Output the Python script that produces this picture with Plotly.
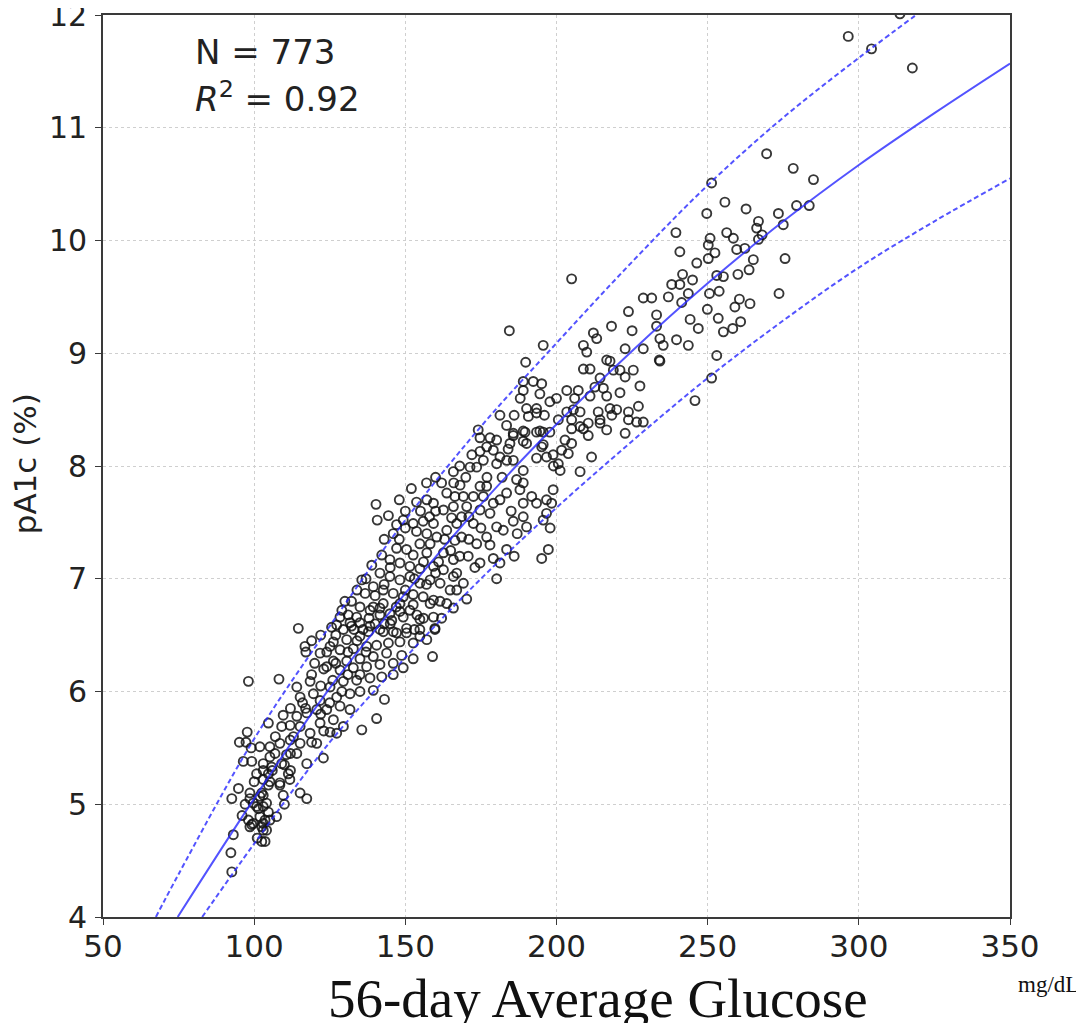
import plotly.graph_objects as go

# ---- scatter data (glucose mg/dL, pA1c %) ----
glucose = [
    98.1, 97.7, 95.1, 97.3, 96.4, 99.2, 101.9, 104.7, 103.0, 100.8, 94.8, 92.6, 98.6, 98.6, 101.9, 100.8, 103.0, 98.1, 99.2, 101.9, 103.6, 102.5, 93.1, 92.3, 92.6, 104.1, 103.0, 104.7, 105.2,
    104.7, 108.5, 109.6, 111.8, 115.2, 117.4, 99.7, 103.0, 104.1, 101.4, 104.7, 99.7, 103.0, 105.2, 107.4, 98.6, 102.5, 103.6,
    114.6, 130.0, 128.4, 131.1, 133.9, 127.3, 129.5, 132.2, 139.4, 142.7, 148.2, 152.6, 158.2, 161.5, 141.6, 145.5, 149.3, 153.8, 159.3, 159.8, 154.8, 150.4, 147.1, 142.7, 137.8, 135.0, 130.6, 126.2, 125.1, 116.8,
    117.1, 121.8, 128.4, 132.8, 137.2, 140.5, 144.4, 148.2, 152.6, 157.1, 152.6, 148.8, 143.8, 139.4, 135.0, 130.6, 126.2, 124.0, 128.4, 132.8, 137.2, 141.6, 146.0, 149.3, 146.0, 142.2, 138.3, 133.9, 129.5,
    108.2, 114.1, 118.5, 115.2, 119.6, 121.8, 125.1, 127.3, 131.7, 135.0, 139.4, 143.1, 140.5, 135.6, 122.9,
    109.6, 114.1, 117.4, 120.7, 124.0, 128.4, 131.7, 126.2, 121.8, 118.5, 115.2, 111.9, 109.1, 129.5, 127.3, 125.1,
    105.2, 108.5, 111.9, 115.2, 120.7, 106.9, 110.7, 114.1, 117.4, 111.3, 109.1, 105.8, 103.0, 108.5, 105.2, 102.5, 103.0,
    140.3, 140.7, 144.4, 153.7, 157.1, 159.3, 162.0, 165.9, 163.7, 166.4, 162.6, 165.3, 149.3, 147.1, 146.0, 147.1, 152.6, 155.9, 159.3, 153.7, 157.1, 160.4, 154.8, 158.2, 163.7, 166.4, 167.0,
    150.4, 152.6, 157.1, 162.6, 165.9, 144.9, 142.2, 148.2, 151.5, 154.8, 159.3, 162.6, 167.0, 138.9, 141.6, 144.9, 148.2, 151.5, 154.8, 158.2, 161.5, 164.8,
    135.6, 136.7, 139.4, 142.7, 146.0, 149.3, 152.6, 155.9, 159.3, 163.7, 132.2, 135.0, 138.3, 141.6, 144.9, 148.2, 151.5, 154.8, 165.9,
    131.7, 135.0, 138.3, 141.6, 146.0, 150.4, 154.8, 159.8, 125.6,
    189.8, 210.0, 217.7, 208.9, 211.1, 218.8, 221.0, 222.7, 225.4, 227.6, 234.2,
    189.0, 192.3, 195.1, 189.0, 194.5, 203.4, 207.2, 197.8, 190.1, 193.4, 190.7, 193.4, 181.3, 183.5, 174.1, 174.7, 178.0, 180.2, 176.9, 179.1, 174.7, 175.8, 171.4, 173.6, 180.2, 183.5, 185.7, 181.3,
    185.7, 189.6, 193.4, 195.6, 197.8, 189.0, 195.6, 193.4, 196.7, 198.9, 201.7, 203.9,
    203.4, 205.6, 207.8, 205.0, 202.8, 208.9, 210.5, 213.8, 217.7, 219.9, 214.4, 218.3, 222.7, 223.8, 223.8, 226.5, 228.7, 227.1, 216.6, 207.8, 211.6,
    189.0, 186.8, 187.9, 189.0, 191.8, 193.4, 189.0, 196.7, 198.4, 198.9, 200.6, 201.2, 195.6, 196.7, 197.9, 197.3, 195.1, 180.2, 181.3, 179.1, 190.1, 189.0, 183.5, 185.7,
    168.1, 169.2, 165.9, 170.3, 168.6, 172.5, 174.7, 172.5, 176.9, 175.8, 179.1, 174.7, 178.0, 181.3, 183.5, 176.9, 180.2, 182.4, 173.6, 170.8, 174.7, 168.6, 169.2,
    205.0, 240.8, 246.4, 241.7, 238.1, 240.8, 228.7, 231.5, 243.6, 241.4, 223.8, 233.1, 233.1, 244.2, 246.9, 184.4, 218.2, 212.2, 213.3, 195.6, 208.9, 234.2, 235.3, 239.7, 243.6, 222.7, 228.7,
    216.6, 214.4, 212.7, 215.5, 216.6, 211.1, 245.8, 214.4, 210.5, 207.8, 205.0, 200.6, 185.7, 189.0, 194.5, 190.1, 184.6, 195.1,
    269.5, 278.3, 285.0, 251.3, 255.7, 262.7, 249.7, 273.4, 279.4, 283.6, 266.8, 266.2, 275.0, 239.5, 256.3, 258.5, 250.8, 250.2, 266.8, 252.4, 259.6,
    262.3, 250.2, 265.1, 275.6, 263.7, 253.0, 255.2, 250.6, 253.8, 260.5, 259.0, 264.0, 273.6, 249.9, 253.5, 260.9, 258.3, 255.2, 234.0, 253.0, 251.3,
    313.6, 296.5, 304.2, 317.7,
    170.3, 159.0, 173.0, 165.9,
    112, 116, 119, 122, 123, 126, 120, 124, 127, 122, 119, 131, 134, 136, 138, 133, 129, 134, 137, 140, 143, 145, 143, 148, 150,
    145, 150, 153, 156, 157, 160, 161, 163, 160, 158, 155, 150, 148, 152, 157, 160, 170, 172, 168, 166, 171, 175, 178, 177, 182,
    185, 187, 184, 186, 188, 186, 110, 112, 113, 107, 106, 110, 112, 100, 97, 96, 101, 99, 119, 123, 125, 129, 117, 122, 127,
    131, 135, 137, 140, 143, 147, 156, 153, 162, 167, 165, 168, 171, 206, 200, 196, 199, 205, 221, 225, 237, 245, 260, 268,
]
pa1c = [
    6.09, 5.64, 5.55, 5.55, 5.38, 5.38, 5.51, 5.72, 5.36, 5.27, 5.14, 5.05, 5.10, 5.05, 5.07, 4.98, 4.98, 4.86, 4.82, 4.89, 4.86, 4.67, 4.73, 4.57, 4.40, 4.77, 5.22, 5.27, 5.42,
    5.17, 5.17, 5.08, 5.22, 5.10, 5.05, 5.01, 5.08, 5.01, 4.96, 4.93, 4.83, 4.83, 4.86, 4.89, 4.80, 4.80, 4.67,
    6.56, 6.80, 6.66, 6.68, 6.66, 6.59, 6.55, 6.58, 6.75, 6.78, 6.78, 6.77, 6.78, 6.80, 6.68, 6.63, 6.66, 6.68, 6.66, 6.56, 6.55, 6.56, 6.52, 6.53, 6.53, 6.49, 6.46, 6.44, 6.40, 6.40,
    6.35, 6.34, 6.37, 6.38, 6.40, 6.41, 6.43, 6.44, 6.43, 6.46, 6.29, 6.32, 6.34, 6.31, 6.29, 6.27, 6.27, 6.22, 6.19, 6.21, 6.22, 6.24, 6.25, 6.21, 6.15, 6.13, 6.12, 6.10, 6.09,
    6.11, 6.04, 6.09, 5.95, 5.98, 5.92, 6.04, 5.95, 5.98, 6.00, 6.01, 5.93, 5.76, 5.66, 5.41,
    5.79, 5.78, 5.81, 5.84, 5.84, 5.87, 5.84, 5.75, 5.72, 5.63, 5.69, 5.70, 5.69, 5.69, 5.63, 5.64,
    5.51, 5.54, 5.57, 5.54, 5.54, 5.45, 5.44, 5.45, 5.36, 5.27, 5.36, 5.33, 5.30, 5.19, 5.20, 5.10, 4.77,
    7.66, 7.52, 7.56, 7.68, 7.70, 7.67, 7.85, 7.95, 7.76, 7.73, 7.61, 7.54, 7.52, 7.48, 7.40, 7.27, 7.49, 7.51, 7.49, 7.42, 7.40, 7.37, 7.31, 7.31, 7.43, 7.34, 7.49,
    7.26, 7.21, 7.23, 7.23, 7.17, 7.17, 7.21, 7.14, 7.11, 7.09, 7.11, 7.08, 7.05, 7.12, 7.05, 7.02, 6.99, 7.02, 6.96, 6.99, 6.96, 6.90,
    6.99, 6.87, 6.93, 6.90, 6.87, 6.84, 6.86, 6.84, 6.81, 6.78, 6.80, 6.75, 6.72, 6.74, 6.69, 6.71, 6.72, 6.64, 6.74,
    6.61, 6.61, 6.58, 6.55, 6.53, 6.52, 6.49, 6.55, 6.57,
    8.92, 9.01, 8.93, 8.86, 8.86, 8.85, 8.85, 8.79, 8.85, 8.71, 8.93,
    8.75, 8.75, 8.73, 8.67, 8.64, 8.67, 8.67, 8.57, 8.51, 8.51, 8.44, 8.47, 8.45, 8.36, 8.32, 8.25, 8.25, 8.23, 8.17, 8.14, 8.13, 8.05, 7.99, 7.99, 8.02, 8.05, 8.05, 8.08,
    8.27, 8.30, 8.30, 8.30, 8.30, 8.22, 8.19, 8.07, 8.08, 8.10, 8.14, 8.11,
    8.48, 8.50, 8.48, 8.41, 8.23, 8.33, 8.27, 8.48, 8.51, 8.50, 8.41, 8.45, 8.29, 8.48, 8.41, 8.39, 8.39, 8.53, 8.32, 7.95, 8.08,
    7.96, 7.88, 7.79, 7.85, 7.73, 7.67, 7.67, 7.70, 7.67, 7.79, 8.02, 7.96, 7.52, 7.58, 7.45, 7.26, 7.18, 7.00, 7.14, 7.18, 7.46, 7.55, 7.26, 7.51,
    7.83, 7.73, 7.64, 7.64, 7.55, 7.49, 7.82, 7.73, 7.82, 7.73, 7.67, 7.61, 7.58, 7.70, 7.76, 7.37, 7.46, 7.43, 7.31, 7.20, 7.14, 7.37, 6.96,
    9.66, 9.90, 9.80, 9.70, 9.61, 9.61, 9.49, 9.49, 9.53, 9.45, 9.37, 9.34, 9.24, 9.30, 9.22, 9.20, 9.24, 9.18, 9.13, 9.07, 9.07, 9.13, 9.07, 9.12, 9.07, 9.04, 9.04,
    8.94, 8.78, 8.70, 8.69, 8.62, 8.62, 8.58, 8.38, 8.38, 8.35, 8.33, 8.41, 8.29, 8.31, 8.31, 8.20, 8.20, 8.17,
    10.77, 10.64, 10.54, 10.51, 10.34, 10.28, 10.24, 10.24, 10.31, 10.31, 10.17, 10.11, 10.14, 10.07, 10.07, 10.02, 10.02, 9.96, 10.01, 9.89, 9.92,
    9.93, 9.84, 9.83, 9.84, 9.74, 9.69, 9.68, 9.53, 9.55, 9.48, 9.41, 9.44, 9.53, 9.39, 9.31, 9.28, 9.22, 9.19, 8.94, 8.98, 8.78,
    12.01, 11.81, 11.70, 11.53,
    6.82, 6.31, 7.10, 7.02,
    5.85, 5.90, 6.15, 6.05, 6.20, 6.10, 6.25, 6.35, 6.50, 6.50, 6.45, 6.35, 6.45, 6.55, 6.65, 6.55, 6.72, 6.90, 7.00, 6.85, 6.95, 7.10, 7.35, 7.35, 7.45,
    6.60, 6.90, 7.00, 7.15, 6.95, 7.05, 7.15, 7.35, 7.60, 7.55, 7.60, 7.60, 7.70, 7.80, 7.85, 7.90, 7.90, 8.10, 8.00, 7.85, 7.35, 7.45, 7.30, 7.90, 7.90,
    7.60, 7.40, 8.15, 8.45, 8.60, 7.20, 5.35, 5.45, 5.60, 5.60, 5.30, 5.00, 5.30, 5.20, 5.00, 4.90, 4.70, 5.50, 5.55, 5.65, 5.90, 6.00, 5.85, 5.80, 6.25,
    6.15, 6.15, 6.35, 6.60, 6.60, 6.75, 6.65, 6.55, 6.65, 6.90, 7.25, 7.20, 7.55, 8.60, 8.60, 8.45, 8.00, 8.20, 8.65, 9.20, 9.50, 9.65, 9.70, 10.05,
]

# ---- regression curve and prediction band ----
fit_x = [74.7, 100, 125, 150, 175, 200, 225, 250, 275, 300, 325, 350]
fit_y = [4.0, 5.05, 6.03, 6.87, 7.66, 8.37, 9.02, 9.62, 10.17, 10.67, 11.13, 11.57]
upper_x = [67.5, 75, 100, 125, 150, 175, 200, 225, 250, 275, 300, 325]
upper_y = [4.0, 4.38, 5.58, 6.58, 7.52, 8.35, 9.09, 9.81, 10.49, 11.09, 11.62, 12.12]
lower_x = [82.8, 100, 125, 150, 175, 200, 225, 250, 275, 300, 325, 350]
lower_y = [4.0, 4.65, 5.55, 6.30, 7.00, 7.63, 8.22, 8.78, 9.29, 9.76, 10.17, 10.55]

x_ticks = [50, 100, 150, 200, 250, 300, 350]
y_ticks = [4, 5, 6, 7, 8, 9, 10, 11, 12]

n = min(len(glucose), len(pa1c))

fig = go.Figure()
fig.add_trace(go.Scatter(
    x=glucose[:n], y=pa1c[:n], mode="markers",
    marker=dict(symbol="circle-open", size=9, color="rgba(20,20,20,0.85)",
                line=dict(width=1.9, color="rgba(20,20,20,0.85)")),
    showlegend=False, hoverinfo="skip"))
blue = "rgba(40,40,255,0.8)"
fig.add_trace(go.Scatter(x=fit_x, y=fit_y, mode="lines", line=dict(color=blue, width=2, shape="spline"),
                         showlegend=False))
fig.add_trace(go.Scatter(x=upper_x, y=upper_y, mode="lines",
                         line=dict(color=blue, width=2, dash="5px,3px", shape="spline"), showlegend=False))
fig.add_trace(go.Scatter(x=lower_x, y=lower_y, mode="lines",
                         line=dict(color=blue, width=2, dash="5px,3px", shape="spline"), showlegend=False))

axis_common = dict(showline=True, linecolor="#3a3a3a", linewidth=1.6, mirror=True,
                   ticks="outside", ticklen=6, tickcolor="#3a3a3a", tickwidth=1.3,
                   showgrid=True, gridcolor="#cfcfcf", griddash="dot", gridwidth=1,
                   zeroline=False, automargin=False, ticklabeloverflow="allow")
fig.update_xaxes(range=[50, 350], tickvals=x_ticks, ticktext=[str(v) for v in x_ticks],
                 tickfont=dict(family="DejaVu Sans", size=31, color="#222"),
                 ticklabelstandoff=-5, **axis_common)
fig.update_yaxes(range=[4, 12], tickvals=y_ticks, ticktext=[str(v) for v in y_ticks],
                 tickfont=dict(family="DejaVu Sans", size=30, color="#222"),
                 ticklabelstandoff=2, **axis_common)

# the page body has an 8px margin, so the figure is 8px smaller and margins shifted
fig.update_layout(
    width=1076, height=1015,
    margin=dict(l=95, r=74, t=7, b=106, autoexpand=False),
    paper_bgcolor="white", plot_bgcolor="white",
    annotations=[
        dict(text="N = 773", xref="paper", yref="paper", x=0.099, y=0.959, xanchor="left", yanchor="middle",
             showarrow=False, font=dict(family="DejaVu Sans", size=34, color="#222")),
        dict(text="<i>R</i><sup>2</sup> = 0.92", xref="paper", yref="paper", x=0.099, y=0.909,
             xanchor="left", yanchor="middle", showarrow=False,
             font=dict(family="DejaVu Sans", size=34, color="#222")),
        dict(text="pA1c (%)", xref="paper", yref="paper", x=-0.086, y=0.503, textangle=-90,
             xanchor="center", yanchor="middle", showarrow=False,
             font=dict(family="DejaVu Sans", size=31, color="#222")),
        dict(text="56-day Average Glucose", xref="paper", yref="paper", x=0.546, y=-0.09,
             xanchor="center", yanchor="middle", showarrow=False,
             font=dict(family="Liberation Serif", size=55, color="#111")),
        dict(text="mg/dL", xref="paper", yref="paper", x=1.042, y=-0.075,
             xanchor="center", yanchor="middle", showarrow=False,
             font=dict(family="Liberation Serif", size=23, color="#111")),
    ],
)

fig.write_html("out.html")
